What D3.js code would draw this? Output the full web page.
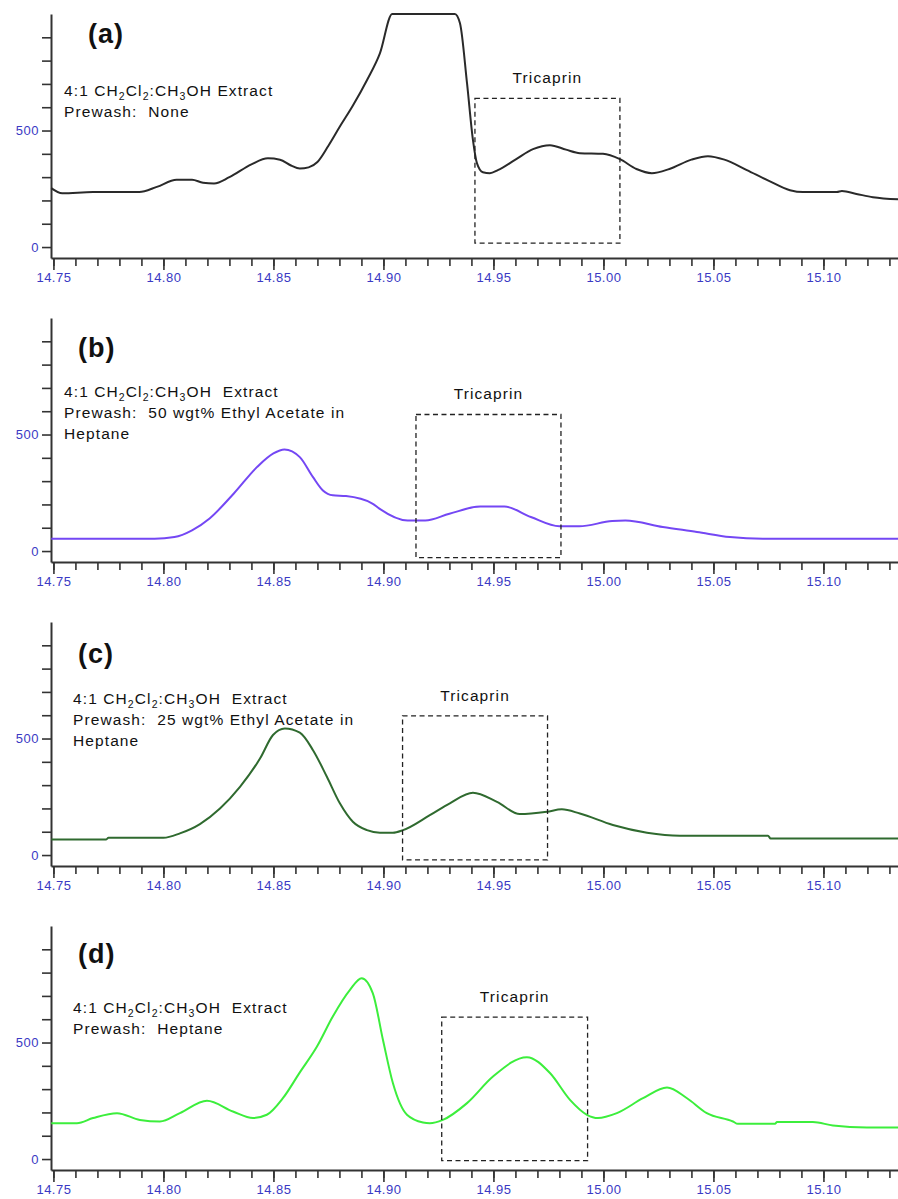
<!DOCTYPE html>
<html>
<head>
<meta charset="utf-8">
<script src="https://cdn.jsdelivr.net/npm/d3@7"></script>
<style>
  body { margin: 0; background: #fff; }
  svg { display: block; font-family: "Liberation Sans", Arial, sans-serif; }
  .note { font-size: 15.5px; fill: #111; letter-spacing: 1.1px; white-space: pre; }
  .plabel { font-size: 27px; font-weight: bold; fill: #111; letter-spacing: 1px; }
  .tick text { fill: #3a3ac4; font-size: 13px; letter-spacing: 0.5px; font-family: "Liberation Sans", Arial, sans-serif; }
  .tick line, .domain { stroke: #333; }
</style>
</head>
<body>
<svg id="chart" width="898" height="1199"></svg>
<script>
// ------------------------------------------
// DATA (retention time in min, response)
// ------------------------------------------
const traceA = [
  [14.749, 253], [14.754, 231], [14.768, 236], [14.789, 236], [14.797, 258], [14.806, 289],
  [14.813, 289], [14.818, 276], [14.823, 273], [14.830, 300], [14.840, 355], [14.8475, 381],
  [14.853, 375], [14.858, 350], [14.862, 337], [14.866, 342], [14.870, 365], [14.875, 435],
  [14.880, 514], [14.886, 605], [14.8925, 716], [14.8984, 831], [14.904, 1000], [14.9325, 1000],
  [14.9348, 960], [14.938, 703], [14.9407, 459], [14.9425, 360], [14.9452, 321], [14.9484, 317],
  [14.952, 330], [14.960, 375], [14.968, 420], [14.9757, 437], [14.983, 418], [14.9893, 403],
  [14.9998, 400], [15.0075, 377], [15.015, 335], [15.022, 317], [15.030, 335], [15.040, 375],
  [15.0475, 390], [15.055, 375], [15.0652, 330], [15.075, 285], [15.0848, 244], [15.0907, 236],
  [15.1061, 236], [15.1084, 240], [15.115, 228], [15.1225, 214], [15.1339, 205]
];
const traceB = [
  [14.749, 53], [14.796, 53], [14.805, 60], [14.813, 89], [14.821, 140], [14.832, 247],
  [14.8425, 360], [14.850, 419], [14.855, 436], [14.862, 403], [14.868, 317], [14.8725, 260],
  [14.877, 239], [14.883, 236], [14.895, 204], [14.898, 183], [14.911, 131], [14.919, 131],
  [14.930, 160], [14.944, 191], [14.955, 191], [14.967, 146], [14.980, 106], [14.989, 106],
  [15.004, 129], [15.010, 131], [15.027, 103], [15.0425, 82], [15.0575, 60], [15.0725, 53],
  [15.1339, 53]
];
const traceC = [
  [14.749, 67], [14.774, 67], [14.775, 74], [14.800, 74], [14.8075, 93], [14.8166, 133],
  [14.8257, 200], [14.8348, 293], [14.8439, 414], [14.8498, 515], [14.8552, 543], [14.862, 525],
  [14.868, 450], [14.8743, 336], [14.8802, 222], [14.8861, 143], [14.8925, 107], [14.8984, 96],
  [14.9043, 96], [14.9089, 107], [14.9211, 171], [14.9302, 222], [14.9407, 267], [14.9516, 228],
  [14.962, 176], [14.9743, 186], [14.9811, 196], [14.9893, 178], [15.0043, 129], [15.0198, 96],
  [15.0348, 83], [15.0748, 83], [15.076, 71], [15.1339, 71]
];
const traceD = [
  [14.749, 154], [14.7607, 154], [14.768, 176], [14.7789, 197], [14.7893, 168], [14.7984, 161],
  [14.8075, 197], [14.8198, 250], [14.8316, 204], [14.8407, 176], [14.847, 190], [14.8543, 261],
  [14.862, 372], [14.8698, 483], [14.877, 612], [14.8848, 726], [14.8901, 776], [14.8952, 711],
  [14.8998, 511], [14.9043, 326], [14.9107, 190], [14.918, 157], [14.9211, 154], [14.927, 168],
  [14.938, 240], [14.9498, 354], [14.9652, 437], [14.9757, 369], [14.9848, 254], [14.9925, 190],
  [14.9975, 176], [15.0061, 197], [15.018, 261], [15.0289, 307], [15.038, 261], [15.047, 197],
  [15.0589, 161], [15.0611, 151], [15.078, 151], [15.0789, 159], [15.0952, 159], [15.1043, 144],
  [15.1198, 135], [15.1339, 135]
];

// Tricaprin windows: [t0, t1, v0, v1]
const boxA = [14.9416, 15.0075, 17, 638];
const boxB = [14.9148, 14.9807, -28, 586];
const boxC = [14.9087, 14.9746, -21, 597];
const boxD = [14.9265, 14.9928, -7, 609];

const panelLabels = ["(a)", "(b)", "(c)", "(d)"];
const panelNotes = [
  ["4:1 CH_2Cl_2:CH_3OH Extract", "Prewash:  None"],
  ["4:1 CH_2Cl_2:CH_3OH  Extract", "Prewash:  50 wgt% Ethyl Acetate in", "Heptane"],
  ["4:1 CH_2Cl_2:CH_3OH  Extract", "Prewash:  25 wgt% Ethyl Acetate in", "Heptane"],
  ["4:1 CH_2Cl_2:CH_3OH  Extract", "Prewash:  Heptane"]
];
const boxLabel = "Tricaprin";

const xMajorTicks = [14.75, 14.80, 14.85, 14.90, 14.95, 15.00, 15.05, 15.10];
const xMinorTicks = d3.range(0, 39).map(i => +(14.75 + i * 0.01).toFixed(2));
const yTicks = [0, 100, 200, 300, 400, 500, 600, 700, 800, 900];
const yTickLabels = [0, 500];

// ------------------------------------------
// LAYOUT
// ------------------------------------------
const panels = [
  { trace: traceA, box: boxA, color: "#2a2a2a", labelX: 88, labelY: 29, noteX: 64, noteY: 82 },
  { trace: traceB, box: boxB, color: "#7447f4", labelX: 78, labelY: 39, noteX: 64, noteY: 79 },
  { trace: traceC, box: boxC, color: "#2f6a2f", labelX: 78, labelY: 41, noteX: 73, noteY: 82 },
  { trace: traceD, box: boxD, color: "#3cee3c", labelX: 78, labelY: 37, noteX: 73, noteY: 87 }
];

const svg = d3.select("#chart");
const left = 51, right = 898;
const innerH = 244, panelStep = 304, firstTop = 14;

const x = d3.scaleLinear().domain([14.7489, 15.1339]).range([left, right]);
const y = d3.scaleLinear().domain([-47, 1000]).range([innerH, 0]);

const line = d3.line()
  .x(d => x(d[0]))
  .y(d => y(d[1]))
  .curve(d3.curveMonotoneX);

function drawNote(g, str, px, py) {
  const t = g.append("text").attr("class", "note").attr("x", px).attr("y", py);
  let sub = false;
  str.split(/(_\d)/).forEach(p => {
    if (!p) return;
    if (p[0] === "_") {
      t.append("tspan").attr("dy", sub ? 0 : 4).attr("font-size", 10.5).text(p.slice(1));
      sub = true;
    } else {
      t.append("tspan").attr("dy", sub ? -4 : 0).text(p);
      sub = false;
    }
  });
}

panels.forEach((p, i) => {
  const g = svg.append("g").attr("transform", `translate(0,${firstTop + i * panelStep})`);

  // y axis
  const yAxis = g.append("g").attr("transform", `translate(${left},0)`)
    .call(d3.axisLeft(y).tickValues(yTicks).tickSize(9).tickPadding(3).tickSizeOuter(0)
      .tickFormat(d => yTickLabels.includes(d) ? d : ""));
  yAxis.select(".domain").attr("stroke-width", 2);
  yAxis.selectAll(".tick line").attr("stroke-width", 1.6);

  // x axis: minor + major ticks
  const xMinor = g.append("g").attr("transform", `translate(0,${innerH})`)
    .call(d3.axisBottom(x).tickValues(xMinorTicks).tickSize(8).tickSizeOuter(0).tickFormat(""));
  xMinor.select(".domain").attr("stroke-width", 2.2);
  xMinor.selectAll(".tick line").attr("stroke-width", 1.6);

  const xMajor = g.append("g").attr("transform", `translate(0,${innerH})`)
    .call(d3.axisBottom(x).tickValues(xMajorTicks).tickSize(12).tickPadding(3).tickSizeOuter(0)
      .tickFormat(d3.format(".2f")));
  xMajor.select(".domain").remove();
  xMajor.selectAll(".tick line").attr("stroke-width", 1.6);

  // trace
  g.append("path")
    .datum(p.trace)
    .attr("d", line)
    .attr("fill", "none")
    .attr("stroke", p.color)
    .attr("stroke-width", 2)
    .attr("stroke-linejoin", "round");

  // tricaprin window
  const [t0, t1, v0, v1] = p.box;
  g.append("rect")
    .attr("x", x(t0)).attr("y", y(v1))
    .attr("width", x(t1) - x(t0)).attr("height", y(v0) - y(v1))
    .attr("fill", "none").attr("stroke", "#222").attr("stroke-width", 1.3)
    .attr("stroke-dasharray", "5,3.5");
  g.append("text").attr("class", "note")
    .attr("x", (x(t0) + x(t1)) / 2).attr("y", y(v1) - 15)
    .attr("text-anchor", "middle")
    .text(boxLabel);

  // panel label and notes
  g.append("text").attr("class", "plabel").attr("x", p.labelX).attr("y", p.labelY).text(panelLabels[i]);
  panelNotes[i].forEach((s, k) => drawNote(g, s, p.noteX, p.noteY + k * 21));
});
</script>
</body>
</html>
